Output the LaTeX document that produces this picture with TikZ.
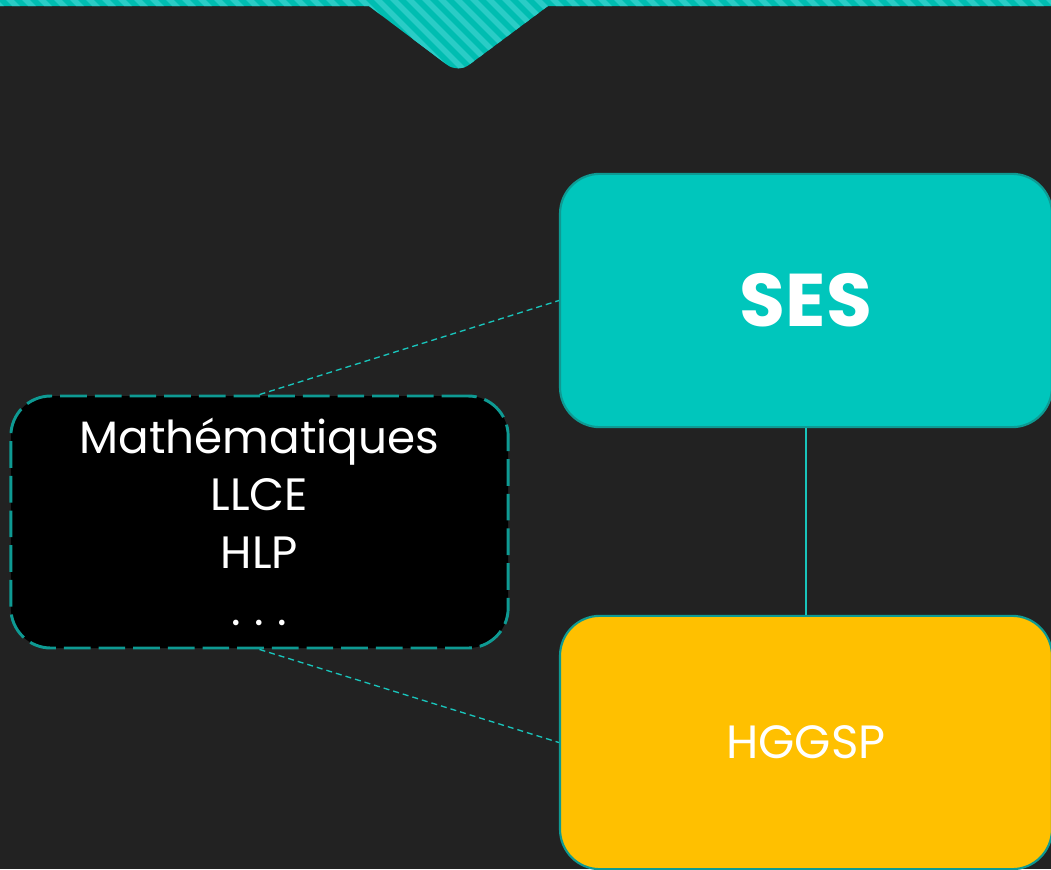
\documentclass[tikz,border=0pt]{standalone}
\usepackage{fontspec}
\setmainfont{Poppins}
\definecolor{bg}{HTML}{222222}
\definecolor{tealfill}{HTML}{00C6BC}
\definecolor{tealedge}{HTML}{0E9A93}
\definecolor{tealline}{HTML}{19C4BB}
\definecolor{stripeA}{HTML}{00BDB1}
\definecolor{stripeB}{HTML}{2ACCC6}
\definecolor{gold}{HTML}{FFC000}
\tikzset{
  topic/.style={rectangle, rounded corners=30pt, draw=tealedge, line width=1.6pt,
    minimum width=369pt, minimum height=190pt, text=white, align=center, inner sep=0pt},
  others/.style={rectangle, rounded corners=30pt, draw=tealedge, fill=black, line width=2.2pt,
    dash pattern=on 20pt off 6pt, minimum width=373pt, minimum height=189pt, text=white,
    align=center, inner sep=0pt},
  link/.style={draw=tealline, line width=1pt},
  dlink/.style={draw=tealline, line width=1pt, dash pattern=on 4.5pt off 3pt},
}
\begin{document}
\begin{tikzpicture}[x=0.75pt,y=-0.75pt]
\useasboundingbox (0,0) rectangle (1051,869);
\clip (0,0) rectangle (1051,869);
\fill[bg] (0,0) rectangle (1051,869);
% striped banner
\begin{scope}
  \clip (0,0) -- (1051,0) -- (1051,6) -- (548,6) [rounded corners=10pt]-- (458,73) [sharp corners]-- (369,6) -- (0,6) -- cycle;
  \fill[stripeA] (0,-5) rectangle (1051,80);
  \foreach \i in {-10,...,70} {
    \draw[stripeB, line width=4.2pt] (\i*16,-10) -- ++(90,90);
  }
\end{scope}
% nodes
\node[topic, fill=tealfill, font=\fontsize{56}{60}\selectfont\bfseries] (ses) at (806,300.5) {SES};
\node[topic, fill=gold, font=\fontsize{35}{40}\selectfont] (hggsp) at (806,742.5) {HGGSP};
\node[others, font=\fontsize{34}{43}\selectfont] (opt) at (259.5,522) {Mathématiques\\LLCE\\HLP\\.\hspace{0.3em}.\hspace{0.3em}.};
% connectors
\draw[link] (ses.south) -- (hggsp.north);
\draw[dlink] (opt.north) -- (ses.west);
\draw[dlink] (opt.south) -- (hggsp.west);
\end{tikzpicture}
\end{document}
